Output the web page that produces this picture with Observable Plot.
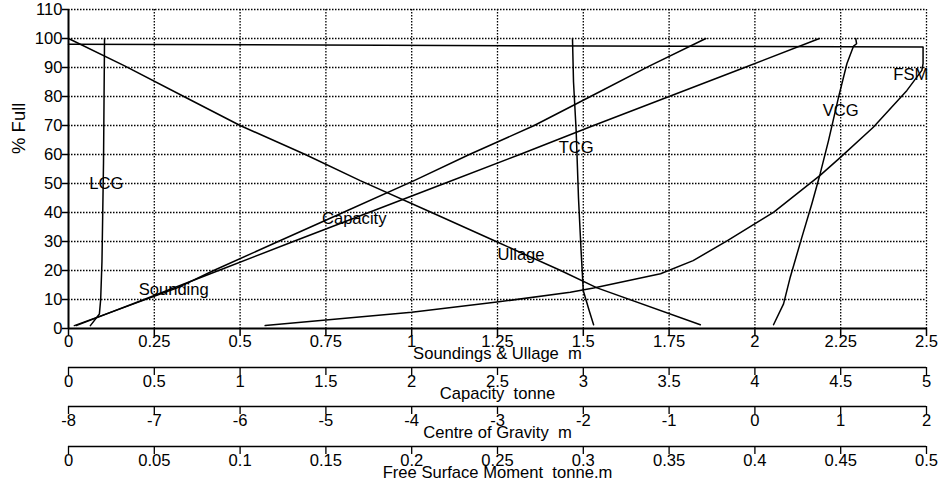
<!DOCTYPE html>
<html><head><meta charset="utf-8">
<script src="https://cdn.jsdelivr.net/npm/d3@7"></script>
<script src="https://cdn.jsdelivr.net/npm/@observablehq/plot@0.6"></script>
<style>
html,body{margin:0;padding:0;background:#fff;}
#chart{position:relative;width:943px;height:483px;overflow:hidden;background:#fff;}
#chart svg{position:absolute;left:0;overflow:visible;}
svg text{white-space:pre;}
</style></head><body><div id="chart"></div>
<script>
// ---------- axes ----------
const pctTicks = [0,10,20,30,40,50,60,70,80,90,100,110];
const soundDomain = [0,2.5];
const soundTicks = [0,0.25,0.5,0.75,1,1.25,1.5,1.75,2,2.25,2.5];
const capDomain = [0,5];
const capTicks = [0,0.5,1,1.5,2,2.5,3,3.5,4,4.5,5];
const cgDomain = [-8,2];
const cgTicks = [-8,-7,-6,-5,-4,-3,-2,-1,0,1,2];
const fsmDomain = [0,0.5];
const fsmTicks = [0,0.05,0.1,0.15,0.2,0.25,0.3,0.35,0.4,0.45,0.5];
const yTitle = "% Full";
const soundTitle = "Soundings & Ullage  m";
const capTitle = "Capacity  tonne";
const cgTitle = "Centre of Gravity  m";
const fsmTitle = "Free Surface Moment  tonne.m";

// ---------- series (% full vs value in own units) ----------
const soundingPct = [1,14,20,30,40,51,60,70,80,90.5,100];
const soundingM   = [0.017,0.317,0.423,0.611,0.80,1.007,1.168,1.357,1.521,1.692,1.857];
const ullagePct = [100,90.5,80,70,60,51,40,30,20,14,1.3];
const ullageM   = [0,0.165,0.336,0.50,0.69,0.85,1.058,1.246,1.434,1.54,1.841];
const capacityPct = [1,10,20,30,40,50,60,70,80,90,100];
const capacityT   = [0.045,0.44,0.875,1.31,1.75,2.19,2.63,3.06,3.50,3.94,4.376];
const lcgPct = [1,5,10,23,57,100];
const lcgM   = [-7.745,-7.64,-7.625,-7.61,-7.592,-7.58];
const tcgPct = [1.3,6,13,28,45,68,85,100];
const tcgM   = [-1.88,-1.93,-2.0,-2.028,-2.056,-2.083,-2.114,-2.126];
const vcgPct = [1.3,8.5,17.7,31.5,43,53.3,64.8,79.8,91.3,97.4,98.2,100];
const vcgM   = [0.217,0.334,0.412,0.548,0.664,0.760,0.858,0.975,1.072,1.15,1.185,1.175];
const fsmPct = [1,5.6,9.1,12.5,14,18.9,23.4,30.3,40.1,52.8,59.1,69.4,82.1,89,91.3,97.1,98];
const fsmV   = [0.1146,0.2,0.2497,0.2924,0.306,0.345,0.364,0.384,0.411,0.438,0.45,0.469,0.4886,0.4973,0.498,0.498,0];

// ---------- curve labels ----------
const labelNames = ["Sounding","Ullage","Capacity","LCG","TCG","VCG","FSM"];
const labelAxis  = ["sound","sound","cap","cg","cg","cg","fsm"];
const labelPct   = [13.4,25.6,37.8,50,62.4,75.2,87.5];
const labelVal   = [0.3065,1.3186,1.665,-7.56,-2.083,1.0,0.4909];

// converters of each unit onto the soundings axis
const conv = {
  sound: v => v,
  cap: d3.scaleLinear().domain(capDomain).range(soundDomain),
  cg: d3.scaleLinear().domain(cgDomain).range(soundDomain),
  fsm: d3.scaleLinear().domain(fsmDomain).range(soundDomain)
};
const series = [
  {name:"Sounding", axis:"sound", pct:soundingPct, val:soundingM},
  {name:"Ullage", axis:"sound", pct:ullagePct, val:ullageM},
  {name:"Capacity", axis:"cap", pct:capacityPct, val:capacityT},
  {name:"LCG", axis:"cg", pct:lcgPct, val:lcgM},
  {name:"TCG", axis:"cg", pct:tcgPct, val:tcgM},
  {name:"VCG", axis:"cg", pct:vcgPct, val:vcgM},
  {name:"FSM", axis:"fsm", pct:fsmPct, val:fsmV}
];
const rows = series.flatMap(s => s.pct.map((p,i) => ({name:s.name, pct:p, x:conv[s.axis](s.val[i])})));
const labels = labelNames.map((n,i) => ({name:n, pct:labelPct[i], x:conv[labelAxis[i]](labelVal[i])}));

const FONT = "'Liberation Sans', Arial, Helvetica, sans-serif";
const W = 943, ML = 68, MR = 17;
const baseStyle = {fontSize:"16.6px", fontFamily:FONT, background:"transparent", overflow:"visible", color:"#000"};
const fmt = d => String(d);
const chart = document.getElementById("chart");

const gridOpts = {stroke:"#000", strokeWidth:1.3, strokeDasharray:"1.5,1.5"};
const main = Plot.plot({
  width: W, height: 364, marginLeft: ML, marginRight: MR, marginTop: 9, marginBottom: 36,
  style: baseStyle,
  x: {domain: soundDomain},
  y: {domain: [0,110]},
  marks: [
    Plot.ruleX(soundTicks.filter(d => d > 0), gridOpts),
    Plot.ruleY(pctTicks.filter(d => d > 0), gridOpts),
    Plot.line(rows, {x:"x", y:"pct", z:"name", stroke:"#000", strokeWidth:1.5}),
    Plot.ruleX([0], {stroke:"#000", strokeWidth:2}),
    Plot.ruleY([0], {stroke:"#000", strokeWidth:2}),
    Plot.axisY({ticks: pctTicks, tickSize: 6, tickPadding: 0, tickFormat: fmt, label: null, strokeWidth: 1.5, fill:"#000"}),
    Plot.axisX({ticks: soundTicks, tickSize: 8, tickPadding: -1, tickFormat: fmt, label: null, strokeWidth: 1.5, fill:"#000"}),
    Plot.text([soundTitle], {frameAnchor:"bottom", dy: 25, lineAnchor:"middle", fill:"#000"}),
    Plot.text([yTitle], {frameAnchor:"left", rotate:-90, dx:-49.5, dy:-15, fontSize:18.5, lineAnchor:"middle", fill:"#000"}),
    Plot.text(labels, {x:"x", y:"pct", text:"name", lineAnchor:"middle", fill:"#000"})
  ]
});
main.style.top = "0px";
chart.appendChild(main);

function subAxis(domain, ticks, title, top) {
  const svg = Plot.plot({
    width: W, height: 39, marginLeft: ML, marginRight: MR, marginTop: 0, marginBottom: 30,
    style: baseStyle,
    x: {domain},
    y: {domain: [0,1], axis: null},
    marks: [
      Plot.ruleY([0], {stroke:"#000", strokeWidth: 1.6}),
      Plot.axisX({ticks, tickSize: 8, tickPadding: 0, tickFormat: fmt, label: null, strokeWidth: 1.3, fill:"#000"}),
      Plot.text([title], {frameAnchor:"bottom", dy: 26, lineAnchor:"middle", fill:"#000"})
    ]
  });
  svg.style.top = top + "px";
  chart.appendChild(svg);
}
subAxis(capDomain, capTicks, capTitle, 358);
subAxis(cgDomain, cgTicks, cgTitle, 397);
subAxis(fsmDomain, fsmTicks, fsmTitle, 437);
</script></body></html>
